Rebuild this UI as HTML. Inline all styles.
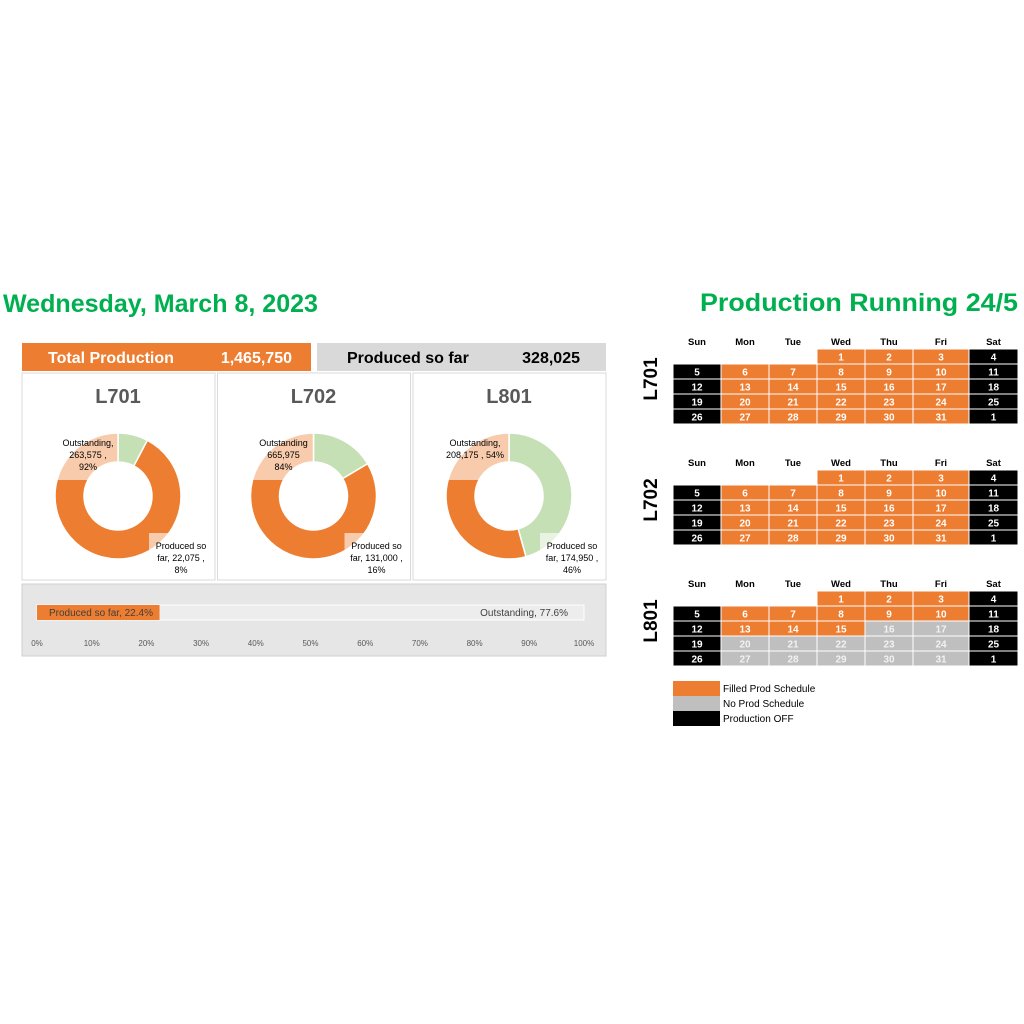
<!DOCTYPE html>
<html><head><meta charset="utf-8"><style>
body{margin:0;width:1024px;height:1024px;background:#fff;font-family:"Liberation Sans",sans-serif;overflow:hidden}
svg{position:absolute;left:0;top:0}
</style></head><body>
<svg id="s" width="1024" height="1024" font-family="Liberation Sans, sans-serif">
<text x="3" y="312" font-size="25" font-weight="bold" fill="#00B050" textLength="315" lengthAdjust="spacingAndGlyphs">Wednesday, March 8, 2023</text>
<text x="700" y="311" font-size="25" font-weight="bold" fill="#00B050" textLength="318" lengthAdjust="spacingAndGlyphs">Production Running 24/5</text>
<rect x="22" y="343" width="289" height="28" fill="#ED7D31"/>
<text x="48" y="363" font-size="16" font-weight="bold" fill="#fff">Total Production</text>
<text x="292" y="363" text-anchor="end" font-size="16" font-weight="bold" fill="#fff">1,465,750</text>
<rect x="317" y="343" width="289" height="28" fill="#D9D9D9"/>
<text x="347" y="363" font-size="16" font-weight="bold" fill="#000">Produced so far</text>
<text x="580" y="363" text-anchor="end" font-size="16" font-weight="bold" fill="#000">328,025</text>
<rect x="22" y="584" width="584" height="72" fill="#E7E6E6" stroke="#d0d0d0"/>
<g id="g"></g>
</svg>
<script>
const lines=['L701','L702','L801'];
const produced=[22075,131000,174950];
const outstanding=[263575,665975,208175];
const producedPct=['8%','16%','46%'];
const outstandingPct=['92%','84%','54%'];
const overallProduced=22.4;
const ticks=[0,10,20,30,40,50,60,70,80,90,100];
const days=[[null,null,null,1,2,3,4],[5,6,7,8,9,10,11],[12,13,14,15,16,17,18],[19,20,21,22,23,24,25],[26,27,28,29,30,31,1]];
const dayNames=['Sun','Mon','Tue','Wed','Thu','Fri','Sat'];
const lastFilled=[31,31,15];
const NS='http://www.w3.org/2000/svg';
const g=document.getElementById('g');
function mk(t,a,txt){const e=document.createElementNS(NS,t);for(const k in a)e.setAttribute(k,a[k]);if(txt!=null)e.textContent=txt;g.appendChild(e);return e;}
function arc(cx,cy,R,r,a0,a1){const p=(a,rr)=>[cx+rr*Math.sin(a),cy-rr*Math.cos(a)];const l=(a1-a0)>Math.PI?1:0;const[x0,y0]=p(a0,R),[x1,y1]=p(a1,R),[x2,y2]=p(a1,r),[x3,y3]=p(a0,r);return `M${x0},${y0}A${R},${R} 0 ${l} 1 ${x1},${y1}L${x2},${y2}A${r},${r} 0 ${l} 0 ${x3},${y3}Z`;}
lines.forEach((n,i)=>{
  const px=22+i*195.5,cx=px+96,cy=496;
  let e=mk('rect',{x:px,y:373,width:193,height:207,fill:'#fff',stroke:'#D9D9D9'});
  
  
  e=mk('text',{x:cx,y:403,'text-anchor':'middle','font-size':20,'font-weight':'bold',fill:'#595959'},n);
  
  
  const tot=produced[i]+outstanding[i];
  const a=2*Math.PI*produced[i]/tot;
  e=mk('path',{d:arc(cx,cy,63,34,0,a),fill:'#C5E0B4',stroke:'#fff','stroke-width':1.5});
  
  
  e=mk('path',{d:arc(cx,cy,63,34,a,2*Math.PI),fill:'#ED7D31',stroke:'#fff','stroke-width':1.5});
  
  
  mk('rect',{x:cx-60,y:433,width:60,height:47,fill:'#fff','fill-opacity':0.6});
  mk('rect',{x:cx+31,y:533,width:63,height:45,fill:'#fff','fill-opacity':0.6});
  const f=(v)=>v.toLocaleString('en-US');
  const ol= i==0?['Outstanding,',f(outstanding[i])+' ,',outstandingPct[i]]: i==1?['Outstanding',f(outstanding[i]),outstandingPct[i]]:['Outstanding,',f(outstanding[i])+' , '+outstandingPct[i]];
  e=mk('text',{'font-size':9,fill:'#000','text-anchor':'middle'});
  ol.forEach((t,k)=>{const s=document.createElementNS(NS,'tspan');s.setAttribute('x',cx-30+(i==2?-4:0));s.setAttribute('y',446+k*12);s.textContent=t;e.appendChild(s);});
  
  
  e=mk('text',{'font-size':9,fill:'#000','text-anchor':'middle'});
  ['Produced so','far,  '+f(produced[i])+' ,',producedPct[i]].forEach((t,k)=>{const s=document.createElementNS(NS,'tspan');s.setAttribute('x',cx+63);s.setAttribute('y',549+k*12);s.textContent=t;e.appendChild(s);});
  
  
});
const x0=37,x1=584,X=v=>x0+(x1-x0)*v/100;
let e=mk('rect',{x:X(0),y:605,width:X(100)-X(0),height:15,fill:'#fff','fill-opacity':0.3,stroke:'#fff'});


e=mk('rect',{x:X(0),y:605,width:X(overallProduced)-X(0),height:15,fill:'#ED7D31'});


e=mk('text',{x:X(0)+12,y:616,'font-size':10,fill:'#404040'},'Produced so far, '+overallProduced.toFixed(1)+'%');


e=mk('text',{x:X(100)-16,y:616,'font-size':10,fill:'#404040','text-anchor':'end'},'Outstanding, '+(100-overallProduced).toFixed(1)+'%');


ticks.forEach(t=>{const e=mk('text',{x:X(t),y:646,'font-size':8,fill:'#595959','text-anchor':'middle'},t+'%');

});
const colX=[673,721,769,817,865,913,969],colW=[48,48,48,48,48,56,49];
const tops=[349,470,591];
lines.forEach((n,ci)=>{
  const top=tops[ci];
  let e=mk('text',{transform:`translate(657,${top+30}) rotate(-90)`,'text-anchor':'middle','font-size':19,'font-weight':'bold',fill:'#000'},n);
  
  
  dayNames.forEach((d,c)=>{const e=mk('text',{x:colX[c]+colW[c]/2,y:top-4,'text-anchor':'middle','font-size':9.5,'font-weight':'bold',fill:'#000'},d);
  
  });
  days.forEach((row,r)=>row.forEach((d,c)=>{
    if(d==null)return;
    const off=(c==0||c==6);
    const fill=off?'#000':(d<=lastFilled[ci]?'#ED7D31':'#BFBFBF');
    const tc=(!off&&d>lastFilled[ci])?'#F2F2F2':'#fff';
    let e=mk('rect',{x:colX[c],y:top+r*15,width:colW[c],height:15,fill:fill,stroke:'#fff','stroke-width':1});
    
    
    e=mk('text',{x:colX[c]+colW[c]/2,y:top+r*15+11.5,'text-anchor':'middle','font-size':10,'font-weight':'bold',fill:tc},d);
    
    
  }));
});
const leg=[['#ED7D31','Filled Prod Schedule'],['#BFBFBF','No Prod Schedule'],['#000','Production OFF']];
leg.forEach((l,k)=>{let e=mk('rect',{x:673,y:681+k*15,width:47,height:15,fill:l[0]});


e=mk('text',{x:723,y:692+k*15,'font-size':10,fill:'#000'},l[1]);

});
</script>
</body></html>
